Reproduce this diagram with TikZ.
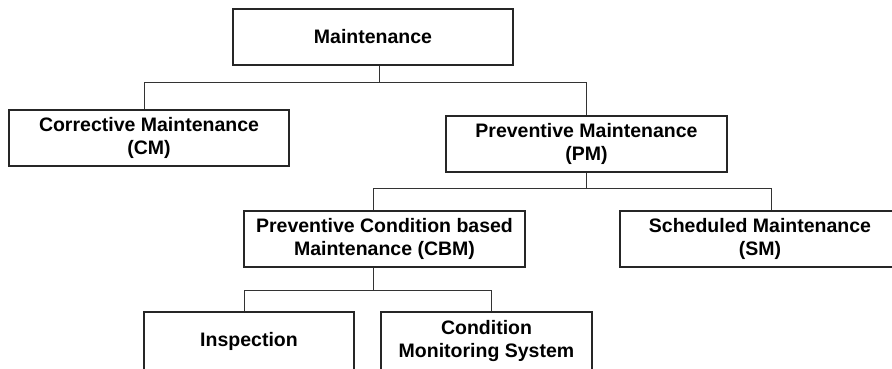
\documentclass[tikz,border=0pt]{standalone}
\usepackage{fontspec}
\setmainfont{Liberation Sans}
\begin{document}
\begin{tikzpicture}[x=1pt,y=1pt,
  box/.style={draw=black!85, line width=1.3pt, fill=white, inner sep=0pt,
    align=center, font=\fontsize{19.5}{23}\selectfont\bfseries, minimum height=56pt},
  conn/.style={draw=black!80, line width=1pt}]
\useasboundingbox (0,0) rectangle (892,368);
\clip (0,0) rectangle (892,368);
\fill[white] (0,0) rectangle (892,368);
\node[box, minimum width=280pt] (maint) at (373,331) {Maintenance};
\node[box, minimum width=280pt] (cm) at (149,230) {Corrective Maintenance\\(CM)};
\node[box, minimum width=281pt] (pm) at (586.5,224) {Preventive Maintenance\\(PM)};
\node[box, minimum width=281pt] (cbm) at (384.5,129) {Preventive Condition based\\Maintenance (CBM)};
\node[box, minimum width=280pt] (sm) at (760,129) {Scheduled Maintenance\\(SM)};
\node[box, minimum width=210pt, minimum height=58pt] (insp) at (249,27) {Inspection};
\node[box, minimum width=211pt, minimum height=58pt] (cms) at (486.5,27) {Condition\\Monitoring System};
\draw[conn] ([xshift=6pt]maint.south) -- ++(0,-17) -| ([xshift=-5pt]cm.north);
\draw[conn] ([xshift=6pt]maint.south) -- ++(0,-17) -| ([xshift=-0.5pt]pm.north);
\draw[conn] ([xshift=-0.5pt]pm.south) -- ++(0,-16) -| ([xshift=-11.5pt]cbm.north);
\draw[conn] ([xshift=-0.5pt]pm.south) -- ++(0,-16) -| ([xshift=11pt]sm.north);
\draw[conn] ([xshift=-11.5pt]cbm.south) -- ++(0,-23) -| ([xshift=-5pt]insp.north);
\draw[conn] ([xshift=-11.5pt]cbm.south) -- ++(0,-23) -| ([xshift=4.5pt]cms.north);
\end{tikzpicture}
\end{document}
